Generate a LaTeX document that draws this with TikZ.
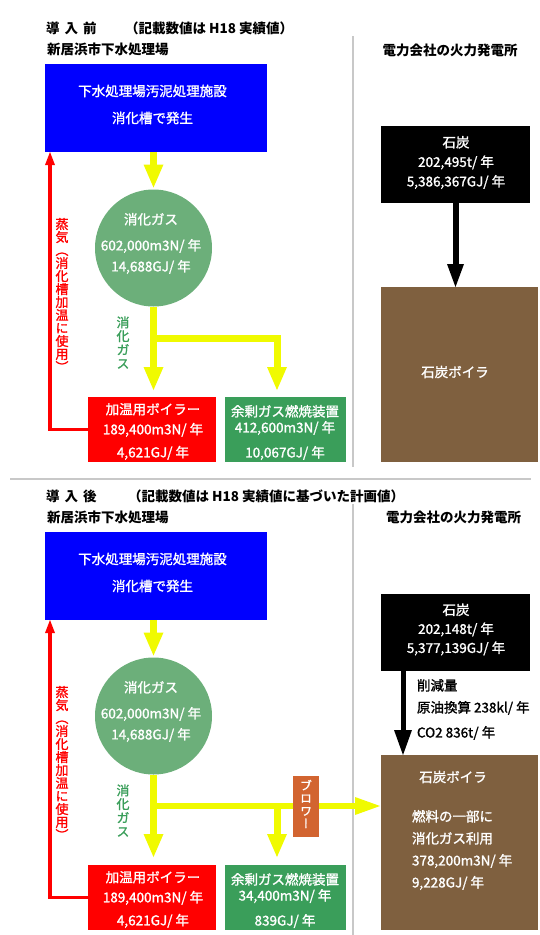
\documentclass[tikz,border=0pt]{standalone}
\usepackage{fontspec}
\setmainfont{Noto Sans CJK JP}
\newfontfamily\mfont[FakeBold=1.4]{Noto Sans CJK JP}
\newfontfamily\vfont[RawFeature=+vert,FakeBold=1.4]{Noto Sans CJK JP}
\usetikzlibrary{arrows.meta,calc}
\definecolor{ybright}{RGB}{240,250,0}
\definecolor{cgreen}{RGB}{108,175,122}
\definecolor{tgreen}{RGB}{58,158,90}
\definecolor{bgreen}{RGB}{58,158,90}
\definecolor{coalbrown}{RGB}{127,96,63}
\definecolor{blowerorange}{RGB}{210,100,48}
\definecolor{divgray}{RGB}{200,200,200}
\definecolor{sludgeblue}{RGB}{0,0,255}
\tikzset{
  every node/.style={inner sep=0pt, outer sep=0pt},
  ttl/.style={anchor=west, font=\fontsize{13.5}{16}\selectfont\bfseries},
  shp/.style={rectangle, draw=none},
  wtxt/.style={text=white, align=center},
  vtxt/.style={align=center},
  divline/.style={draw=divgray, line width=2pt},
  yarrow/.style={draw=ybright, line width=7pt, -{Triangle[width=20pt,length=23pt,line width=0pt]}},
  yarrowh/.style={draw=ybright, line width=6.5pt, -{Triangle[width=18pt,length=25pt,line width=0pt]}},
  rarrow/.style={draw=red, line width=3.5pt, -{Triangle[width=10pt,length=13pt,line width=0pt]}},
  karrow/.style={draw=black, line width=6pt, -{Triangle[width=17pt,length=23pt,line width=0pt]}},
  karrowb/.style={draw=black, line width=5pt, -{Triangle[width=18pt,length=25pt,line width=0pt]}}
}
\begin{document}
\begin{tikzpicture}[x=1pt,y=-1pt]
\useasboundingbox (0,0) rectangle (540,935);
% dividers
\draw[divline] (353,36) -- (353,467);
\draw[divline] (10,479) -- (531,479);
\draw[divline] (353,504) -- (353,935);

% ================= top panel =================
\node[ttl] (pre) at (46,28) {導\hspace{2pt} 入\hspace{2pt} 前};
\node[ttl] (prenote) at (125,28) {（記載数値は H18 実績値）};
\node[ttl] (plant1) at (47,49) {新居浜市下水処理場};
\node[ttl, anchor=center] (power1) at (450,50) {電力会社の火力発電所};

\node[shp, fill=sludgeblue, minimum width=222pt, minimum height=88pt] (blue1) at (155.7,108) {};
\node[wtxt, font=\mfont\fontsize{13.5}{27}\selectfont] (blue1t) at (152.5,104.5) {下水処理場汚泥処理施設\\消化槽で発生};

\node[circle, fill=cgreen, minimum size=117pt] (circ1) at (153.5,248) {};
\node[wtxt, font=\mfont\fontsize{13.5}{21}\selectfont] (circ1t) at (151,243.5) {消化ガス\\[5pt]602,000m3N/ 年\\14,688GJ/ 年};

\node[shp, fill=red, minimum width=128pt, minimum height=65pt] (heat1) at (152,429.5) {};
\node[wtxt, font=\mfont\fontsize{13.5}{20}\selectfont] (heat1t) at (153,431.5) {加温用ボイラー\\189,400m3N/ 年\\[3pt]4,621GJ/ 年};

\node[shp, fill=bgreen, minimum width=121pt, minimum height=65pt] (flare1) at (285.5,429.5) {};
\node[wtxt, font=\mfont\fontsize{13.5}{16}\selectfont] (flare1t) at (285,432.5) {余剰ガス燃焼装置\\412,600m3N/ 年\\[9pt]10,067GJ/ 年};

\node[shp, fill=black, minimum width=149pt, minimum height=77pt] (coal1) at (455.5,164.5) {};
\node[wtxt, font=\mfont\fontsize{13.5}{19.5}\selectfont] (coal1t) at (456,162.5) {石炭\\202,495t/ 年\\5,386,367GJ/ 年};

\node[shp, fill=coalbrown, minimum width=157pt, minimum height=175pt] (boiler1) at (459.5,374.5) {};
\node[wtxt, font=\mfont\fontsize{13.5}{16}\selectfont] (boiler1t) at (455,372) {石炭ボイラ};

\node[vtxt, text=red, font=\vfont\fontsize{13}{13}\selectfont] (steam1) at (62,295) {蒸\\気\\︵\\消\\化\\槽\\加\\温\\に\\使\\用\\︶};
\node[vtxt, text=tgreen, font=\vfont\fontsize{13}{13.7}\selectfont] (gaslbl1) at (123,342.5) {消\\化\\ガ\\ス};

\draw[yarrow, shorten >=2pt] (blue1.south -| circ1.center) -- (circ1.north);
\draw[yarrow, shorten >=7pt] (circ1.south) -- (circ1.south |- heat1.north);
\coordinate (br1) at (153.5,338);
\coordinate (br1r) at (277,338);
\draw[yarrow, shorten >=7pt] (br1) -- (br1r) -- (br1r |- flare1.north);
\draw[karrow] (coal1.south) -- (coal1.south |- boiler1.north);
\coordinate (stm1) at (50,300);
\draw[rarrow] (heat1.west) -| (stm1 |- blue1.south);

% ================= bottom panel =================
\node[ttl] (post) at (46,496) {導\hspace{2pt} 入\hspace{2pt} 後};
\node[ttl] (postnote) at (128,496) {（記載数値は H18 実績値に基づいた計画値）};
\node[ttl] (plant2) at (47,517) {新居浜市下水処理場};
\node[ttl, anchor=center] (power2) at (453.5,517) {電力会社の火力発電所};

\node[shp, fill=sludgeblue, minimum width=222pt, minimum height=88pt] (blue2) at (155.7,576) {};
\node[wtxt, font=\mfont\fontsize{13.5}{27}\selectfont] (blue2t) at (152.5,572.5) {下水処理場汚泥処理施設\\消化槽で発生};

\node[circle, fill=cgreen, minimum size=117pt] (circ2) at (153.5,716) {};
\node[wtxt, font=\mfont\fontsize{13.5}{21}\selectfont] (circ2t) at (151,711.5) {消化ガス\\[5pt]602,000m3N/ 年\\14,688GJ/ 年};

\node[shp, fill=red, minimum width=128pt, minimum height=65pt] (heat2) at (152,897.5) {};
\node[wtxt, font=\mfont\fontsize{13.5}{20}\selectfont] (heat2t) at (153,899.5) {加温用ボイラー\\189,400m3N/ 年\\[3pt]4,621GJ/ 年};

\node[shp, fill=bgreen, minimum width=121pt, minimum height=65pt] (flare2) at (285.5,897.5) {};
\node[wtxt, font=\mfont\fontsize{13.5}{16}\selectfont] (flare2t) at (285,900.5) {余剰ガス燃焼装置\\34,400m3N/ 年\\[9pt]839GJ/ 年};

\node[shp, fill=black, minimum width=149pt, minimum height=77pt] (coal2) at (455.5,632.5) {};
\node[wtxt, font=\mfont\fontsize{13.5}{19}\selectfont] (coal2t) at (456,629.5) {石炭\\202,148t/ 年\\5,377,139GJ/ 年};

\node[align=left, anchor=west, font=\mfont\fontsize{13.5}{22}\selectfont] (reduce) at (417,709.5) {削減量\\原油換算 238kl/ 年\\[3pt]CO2 836t/ 年};

\node[shp, fill=coalbrown, minimum width=157pt, minimum height=175pt] (boiler2) at (459.5,842.5) {};
\node[wtxt, font=\mfont\fontsize{13.5}{16}\selectfont] (boiler2t) at (453,777) {石炭ボイラ};
\node[text=white, align=left, anchor=west, font=\mfont\fontsize{13.5}{22}\selectfont] (boiler2d) at (412,850) {燃料の一部に\\消化ガス利用\\378,200m3N/ 年\\9,228GJ/ 年};

\node[vtxt, text=red, font=\vfont\fontsize{13}{13}\selectfont] (steam2) at (62,763) {蒸\\気\\︵\\消\\化\\槽\\加\\温\\に\\使\\用\\︶};
\node[vtxt, text=tgreen, font=\vfont\fontsize{13}{13.7}\selectfont] (gaslbl2) at (123,810.5) {消\\化\\ガ\\ス};

\draw[yarrow, shorten >=2pt] (blue2.south -| circ2.center) -- (circ2.north);
\draw[yarrow, shorten >=8pt] (circ2.south) -- (circ2.south |- heat2.north);
\coordinate (br2) at (153.5,806);
\coordinate (br2r) at (277,806);
\draw[yarrowh, shorten >=1pt] (br2) -- (br2 -| boiler2.west);
\draw[yarrow, shorten >=8pt] (br2r) -- (br2r |- flare2.north);
\coordinate (ax2) at (403,700);
\draw[karrowb] (ax2 |- coal2.south) -- (ax2 |- boiler2.north);
\coordinate (stm2) at (50,760);
\draw[rarrow] (heat2.west) -| (stm2 |- blue2.south);

\node[shp, fill=blowerorange, minimum width=26pt, minimum height=61pt] (blower) at (306,806.5) {};
\node[vtxt, text=white, font=\vfont\fontsize{12}{12.7}\selectfont] (blowert) at (306,804) {ブ\\ロ\\ワ\\ー};
\end{tikzpicture}
\end{document}
